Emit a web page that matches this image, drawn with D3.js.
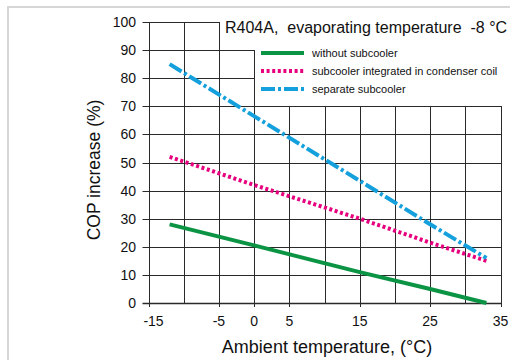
<!DOCTYPE html>
<html>
<head>
<meta charset="utf-8">
<script src="https://cdn.jsdelivr.net/npm/d3@7"></script>
<style>
  html, body { margin: 0; padding: 0; background: #fff; }
  text { font-family: "Liberation Sans", Arial, sans-serif; fill: #111; }
</style>
</head>
<body>
<div id="chart"></div>
<script>
// values
const xTicks = [-15, -5, 0, 5, 15, 25, 35];
const yTicks = [0, 10, 20, 30, 40, 50, 60, 70, 80, 90, 100];
const seriesNames = ['without subcooler', 'subcooler integrated in condenser coil', 'separate subcooler'];
const ambient = [-12, 0, 15, 25, 33];
const withoutSubcooler = [28, 20.5, 11, 5, 0];
const integratedSubcooler = [52, 42, 30, 21.5, 15];
const separateSubcooler = [85, 66.5, 43.5, 28, 16];
const titleText = 'R404A,  evaporating temperature  -8 \u00B0C';

const width = 510, height = 360;
const svg = d3.select('#chart').append('svg')
    .attr('width', width)
    .attr('height', height);

// light frame
svg.append('line').attr('x1', 8).attr('x2', 8).attr('y1', 6).attr('y2', height)
    .attr('stroke', '#d6d6d6').attr('stroke-width', 2);
svg.append('line').attr('x1', 7).attr('x2', width).attr('y1', 7).attr('y2', 7)
    .attr('stroke', '#d6d6d6').attr('stroke-width', 2);

const x = d3.scaleLinear().domain([-15, 35]).range([148.5, 500.5]);
const y = d3.scaleLinear().domain([0, 100]).range([303, 22]);

// grid, cut away in the top right for the legend
const gridColor = '#2a2a2a';
const vTop = v => v <= -5 ? 100 : (v <= 0 ? 90 : 70);
const hRight = v => v <= 70 ? 35 : (v <= 90 ? 0 : -5);

svg.append('g').selectAll('line')
    .data(d3.range(-15, 36, 5))
    .enter().append('line')
    .attr('x1', d => Math.round(x(d)) + 0.5)
    .attr('x2', d => Math.round(x(d)) + 0.5)
    .attr('y1', d => y(vTop(d)))
    .attr('y2', d => xTicks.includes(d) ? y(0) + 4 : y(0))
    .attr('stroke', gridColor)
    .attr('stroke-width', 1);

svg.append('g').selectAll('line')
    .data(yTicks)
    .enter().append('line')
    .attr('x1', x(-15) - 6)
    .attr('x2', d => Math.round(x(hRight(d))) + 1)
    .attr('y1', d => Math.round(y(d)) + 0.5)
    .attr('y2', d => Math.round(y(d)) + 0.5)
    .attr('stroke', gridColor)
    .attr('stroke-width', d => d === 0 ? 1.5 : 1);

// tick labels
svg.append('g').selectAll('text')
    .data(yTicks)
    .enter().append('text')
    .attr('x', 136)
    .attr('y', d => y(d) + 5)
    .attr('text-anchor', 'end')
    .style('font-size', '14px')
    .text(d => d);

svg.append('g').selectAll('text')
    .data(xTicks)
    .enter().append('text')
    .attr('x', d => d === -15 ? x(d) + 5 : x(d))
    .attr('y', 326)
    .attr('text-anchor', 'middle')
    .style('font-size', '14px')
    .text(d => d);

// axis titles
svg.append('text')
    .attr('x', 327)
    .attr('y', 353)
    .attr('text-anchor', 'middle')
    .style('font-size', '18px')
    .text('Ambient temperature, (\u00B0C)');

svg.append('text')
    .attr('transform', 'rotate(-90)')
    .attr('x', -170)
    .attr('y', 100)
    .attr('text-anchor', 'middle')
    .style('font-size', '17.5px')
    .text('COP increase (%)');

// series
const styles = [
    { color: '#0b9444', width: 4, dash: null },
    { color: '#e6007e', width: 4, dash: '3,2.6' },
    { color: '#13a0dc', width: 4, dash: '14,3,3,3' }
];
const series = [withoutSubcooler, integratedSubcooler, separateSubcooler];

const line = d3.line()
    .x((d, i) => x(ambient[i]))
    .y(d => y(d));

series.forEach((s, i) => {
    svg.append('path')
        .datum(s)
        .attr('fill', 'none')
        .attr('stroke', styles[i].color)
        .attr('stroke-width', styles[i].width)
        .attr('stroke-dasharray', styles[i].dash)
        .attr('d', line);
});

// title + legend
svg.append('text')
    .attr('x', 225)
    .attr('y', 33)
    .style('font-size', '16px')
    .style('white-space', 'pre')
    .attr('xml:space', 'preserve')
    .text(titleText);

const legend = svg.append('g').attr('transform', 'translate(261, 53)');
seriesNames.forEach((name, i) => {
    legend.append('line')
        .attr('x1', 0)
        .attr('x2', 43)
        .attr('y1', i * 18)
        .attr('y2', i * 18)
        .attr('stroke', styles[i].color)
        .attr('stroke-width', 4)
        .attr('stroke-dasharray', styles[i].dash);
    legend.append('text')
        .attr('x', 51)
        .attr('y', i * 18 + 4)
        .style('font-size', '11px')
        .text(name);
});
</script>
</body>
</html>
